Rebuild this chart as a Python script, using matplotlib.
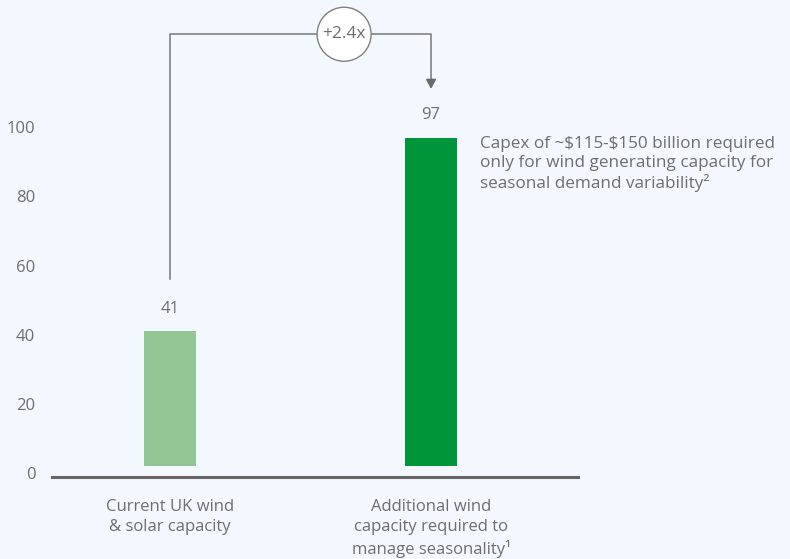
import matplotlib.pyplot as plt
from matplotlib.patches import Circle

# data
categories = ["Current UK wind\n& solar capacity",
              "Additional wind\ncapacity required to\nmanage seasonality\u00b9"]
values = [41, 97]
bar_colors = ["#93c595", "#00953a"]
yticks = [0, 20, 40, 60, 80, 100]
multiplier_label = "+2.4x"
note = ("Capex of ~\\$115-\\$150 billion required\n"
        "only for wind generating capacity for\n"
        "seasonal demand variability\u00b2")

bg = "#f3f8fe"
grey = "#6e6e6e"
line_grey = "#808080"

plt.rcParams['font.family'] = ['Open Sans', 'DejaVu Sans']

fig = plt.figure(figsize=(7.9, 5.59), dpi=100, facecolor=bg)
# axes spans baseline pixels x 52..578, y from value -1.1 (px 477) to 129
ax = fig.add_axes([52 / 790, (559 - 477) / 559, 526 / 790, (477 - 27) / 559])
ax.set_facecolor(bg)
ax.set_xlim(-0.452, 1.563)
ax.set_ylim(-1.1, 129)

x = list(range(len(values)))
base = 2
ax.bar(x, [v - base for v in values], bottom=base, width=0.2,
       color=bar_colors, zorder=2)

for xi, v in zip(x, values):
    ax.text(xi, v + 6.5, str(v), ha="center", va="center",
            fontsize=12, color=grey)

# axis styling
for s in ["top", "right", "left"]:
    ax.spines[s].set_visible(False)
ax.spines["bottom"].set_color("#666666")
ax.spines["bottom"].set_linewidth(2.2)
ax.set_yticks(yticks)
ax.set_yticklabels([str(t) for t in yticks], fontsize=12, color=grey)
ax.tick_params(axis="y", length=0, pad=12)
ax.tick_params(axis="x", length=0, pad=16)
ax.set_xticks(x)
ax.set_xticklabels(categories, fontsize=12, color=grey, linespacing=1.32)

# bracket with multiplier
y_top = 126.9
ax.plot([0, 0, 1, 1], [56, y_top, y_top, 113], color=line_grey, lw=1.2,
        zorder=1, clip_on=False)
ax.annotate("", xy=(1, 110.3), xytext=(1, 114),
            arrowprops=dict(arrowstyle="-|>,head_length=0.55,head_width=0.3",
                            color="#6a6a6a", lw=1.2), annotation_clip=False)
px, py = ax.transData.transform((0.667, y_top))
circ = Circle((px / 100, py / 100), 0.27, transform=fig.dpi_scale_trans,
              facecolor="white", edgecolor=line_grey, lw=1.0, zorder=5)
fig.patches.append(circ)
fig.text(px / 790, py / 559, multiplier_label, ha="center", va="center",
         fontsize=12.5, color=grey, zorder=6)

fig.text(480 / 790, 1 - 136 / 559, note, ha="left", va="top",
         fontsize=12.3, color=grey, linespacing=1.22)

fig.savefig("out.png", dpi=100, facecolor=bg)
